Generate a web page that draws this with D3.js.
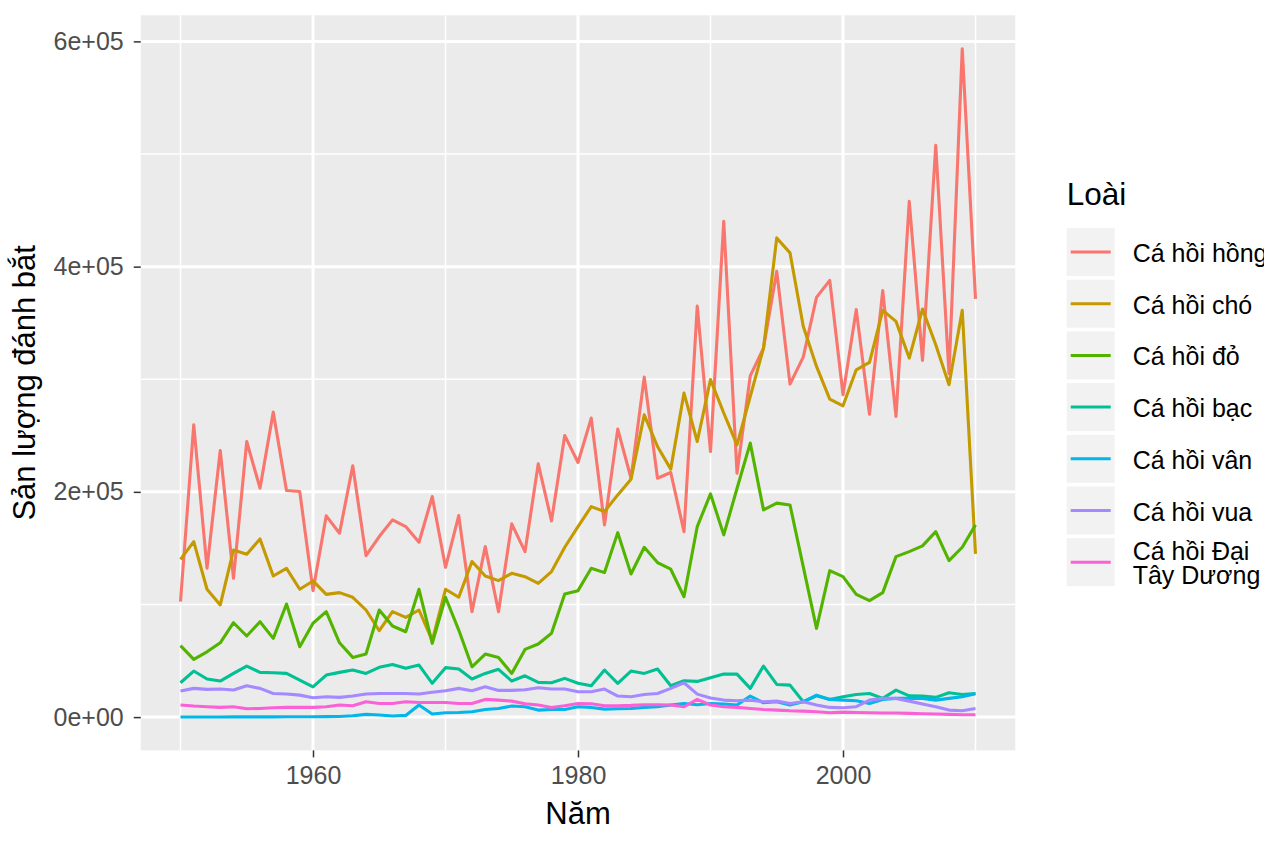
<!DOCTYPE html>
<html>
<head>
  <meta charset="UTF-8">
  <title>Sản lượng cá hồi</title>
  <script src="https://d3js.org/d3.v7.min.js"></script>
  <style>
    body {
      margin: 0;
      padding: 0;
      background-color: #ffffff;
    }
    svg text {
      font-family: 'Liberation Sans', Arial, Helvetica, sans-serif;
    }
    .axis text {
      font-size: 25px;
      fill: #4d4d4d;
    }
    .axis line {
      stroke: #333333;
      stroke-width: 1.5;
    }
    .axis path {
      display: none;
    }
  </style>
</head>
<body>
  <svg id="chart" width="1264" height="848"></svg>
  <script>
    // years 1950..2010
    const years = d3.range(1950, 2011);

    const species = ["Cá hồi hồng", "Cá hồi chó", "Cá hồi đỏ", "Cá hồi bạc", "Cá hồi vân", "Cá hồi vua", "Cá hồi Đại Tây Dương"];
    const legendLines = [["Cá hồi hồng"], ["Cá hồi chó"], ["Cá hồi đỏ"], ["Cá hồi bạc"], ["Cá hồi vân"], ["Cá hồi vua"], ["Cá hồi Đại", "Tây Dương"]];
    const colors = ["#F8766D", "#C49A00", "#53B400", "#00C094", "#00B6EB", "#A58AFF", "#FB61D7"];

    const pink = [102500, 259500, 132200, 236700, 123300, 244700, 203300, 270800, 201200, 200300,
      112300, 178700, 163300, 223100, 143400, 160300, 175100, 169200, 155300, 195800,
      133000, 178900, 93600, 151400, 93600, 171600, 146900, 224900, 174200, 250100,
      226100, 265500, 170700, 255700, 212100, 301900, 212100, 217200, 164700, 365000,
      235800, 440300, 216600, 303000, 327700, 395800, 295700, 319700, 372700, 387800,
      286200, 361800, 268900, 378700, 266900, 458000, 316700, 507800, 305000, 593500,
      371300];
    const chum = [140100, 155800, 113500, 99600, 148400, 144600, 158200, 125300, 132100, 113500,
      120900, 109000, 110500, 106400, 95100, 76700, 93600, 88600, 95100, 68000,
      113500, 106400, 138100, 125300, 121200, 127700, 124700, 118800, 129200, 150800,
      169200, 186900, 182500, 197300, 211300, 268400, 240300, 220200, 287700, 244700,
      299700, 270000, 241800, 284700, 327700, 425500, 412200, 347000, 311400, 282400,
      276400, 308400, 315000, 361200, 351400, 318800, 362400, 330700, 295100, 361200,
      145000];
    const sockeye = [63400, 51300, 58000, 66000, 83800, 72000, 84700, 69900, 100400, 62500,
      83300, 93600, 66000, 53000, 56000, 95100, 80900, 75800, 113500, 65500,
      106400, 77300, 44700, 56000, 53000, 38800, 60100, 64900, 74400, 109300,
      112300, 132100, 128300, 163800, 127100, 150800, 137200, 131300, 106900, 169200,
      198200, 161800, 203000, 243300, 184000, 190000, 188400, 133600, 78800, 130000,
      124700, 109000, 103400, 110500, 142500, 146900, 152000, 164700, 139000, 150800,
      170700];
    const coho = [30500, 40900, 33800, 32000, 38800, 45300, 39700, 39400, 38800, 32900,
      26900, 37300, 39700, 41800, 38800, 44200, 46800, 43300, 46200, 30000,
      43900, 42700, 33800, 38800, 42400, 32000, 36700, 30800, 30500, 34400,
      30000, 27800, 41800, 30000, 40900, 38800, 42700, 27800, 32300, 31700,
      34900, 38200, 38200, 25500, 45300, 29000, 28400, 13600, 18900, 15700,
      18000, 20100, 21000, 16600, 24000, 18900, 18600, 17500, 21600, 20100,
      21000];
    const steelhead = [100, 100, 100, 100, 200, 200, 200, 200, 300, 300,
      300, 400, 500, 1200, 2400, 1800, 1000, 1500, 10700, 2700,
      3800, 4100, 4700, 6800, 7700, 9800, 9200, 6200, 6800, 6800,
      9200, 8600, 7100, 7400, 7700, 8600, 9200, 10700, 12100, 11000,
      12100, 11600, 10700, 18700, 12700, 13600, 10700, 13600, 19500, 15700,
      15100, 14500, 12100, 15700, 16600, 16600, 16600, 15100, 16600, 18000,
      20700];
    const chinook = [23100, 25500, 24600, 24900, 24000, 27800, 25500, 21000, 20500, 19500,
      17200, 18100, 17500, 18700, 20500, 21000, 21000, 21000, 20500, 22000,
      23400, 25500, 23400, 26900, 23700, 23700, 24300, 26000, 24900, 24900,
      22500, 22500, 24900, 18700, 18100, 20100, 21000, 25500, 30500, 20400,
      17000, 15100, 14500, 15100, 13600, 14200, 12100, 13600, 10700, 8600,
      8300, 9200, 15100, 16600, 16600, 14200, 11600, 9200, 6200, 5600,
      7700];
    const atlantic = [10700, 9800, 9200, 8600, 9200, 7400, 7700, 8300, 8600, 8600,
      8600, 9200, 10700, 10100, 13600, 12100, 12100, 13600, 13000, 13000,
      13000, 12100, 12100, 15700, 15100, 14200, 11900, 10700, 8600, 10100,
      12100, 11900, 10100, 10100, 10400, 11000, 11000, 10700, 9200, 15700,
      10700, 9200, 8600, 7700, 6800, 6200, 5600, 5300, 4700, 3800,
      4400, 4100, 3800, 3600, 3600, 3300, 3000, 2700, 2400, 2100,
      2100];

    const series = [pink, chum, sockeye, coho, steelhead, chinook, atlantic];

    const xMajor = [1960, 1980, 2000];
    const xMinor = [1950, 1970, 1990, 2010];
    const yMajor = [0, 200000, 400000, 600000];
    const yMinor = [100000, 300000, 500000];

    // panel box
    const pl = 140.75, pr = 1015.25, pt = 15.3, pb = 750.4;

    const svg = d3.select("#chart");
    svg.append("rect").attr("width", 1264).attr("height", 848).attr("fill", "#ffffff");

    // ggplot style 5% expansion
    const xExt = d3.extent(years);
    const xPad = (xExt[1] - xExt[0]) * 0.05;
    const x = d3.scaleLinear().domain([xExt[0] - xPad, xExt[1] + xPad]).range([pl, pr]);

    const allVals = series.flat();
    const yExt = d3.extent(allVals);
    const yPad = (yExt[1] - yExt[0]) * 0.05;
    const y = d3.scaleLinear().domain([yExt[0] - yPad, yExt[1] + yPad]).range([pb, pt]);

    svg.append("rect")
      .attr("x", pl).attr("y", pt)
      .attr("width", pr - pl).attr("height", pb - pt)
      .attr("fill", "#EBEBEB");

    const grid = svg.append("g").attr("stroke", "#ffffff");
    grid.selectAll(".ymin").data(yMinor).enter().append("line")
      .attr("x1", pl).attr("x2", pr)
      .attr("y1", d => y(d)).attr("y2", d => y(d))
      .attr("stroke-width", 1.5);
    grid.selectAll(".xmin").data(xMinor).enter().append("line")
      .attr("y1", pt).attr("y2", pb)
      .attr("x1", d => x(d)).attr("x2", d => x(d))
      .attr("stroke-width", 1.5);
    grid.selectAll(".ymaj").data(yMajor).enter().append("line")
      .attr("x1", pl).attr("x2", pr)
      .attr("y1", d => y(d)).attr("y2", d => y(d))
      .attr("stroke-width", 3);
    grid.selectAll(".xmaj").data(xMajor).enter().append("line")
      .attr("y1", pt).attr("y2", pb)
      .attr("x1", d => x(d)).attr("x2", d => x(d))
      .attr("stroke-width", 3);

    // lines
    const line = d3.line()
      .x((d, i) => x(years[i]))
      .y(d => y(d));

    svg.append("g").selectAll("path")
      .data(series)
      .enter().append("path")
      .attr("d", d => line(d))
      .attr("fill", "none")
      .attr("stroke", (d, i) => colors[i])
      .attr("stroke-width", 3.1)
      .attr("stroke-linejoin", "round");

    // axes
    function sci(v) {
      const parts = d3.format(".0e")(v).split("e");
      const sign = parts[1][0];
      const exp = parts[1].slice(1).padStart(2, "0");
      return parts[0] + "e" + sign + exp;
    }

    svg.append("g")
      .attr("class", "axis")
      .attr("transform", `translate(0,${pb})`)
      .call(d3.axisBottom(x).tickValues(xMajor).tickFormat(d3.format("d")).tickSize(7).tickPadding(9));

    svg.append("g")
      .attr("class", "axis")
      .attr("transform", `translate(${pl},0)`)
      .call(d3.axisLeft(y).tickValues(yMajor).tickFormat(sci).tickSize(7).tickPadding(10));

    // axis titles
    svg.append("text")
      .attr("x", (pl + pr) / 2)
      .attr("y", 824)
      .attr("text-anchor", "middle")
      .style("font-size", "31px")
      .attr("fill", "#000")
      .text("Năm");

    svg.append("text")
      .attr("transform", `translate(35,${(pt + pb) / 2}) rotate(-90)`)
      .attr("text-anchor", "middle")
      .style("font-size", "31px")
      .attr("fill", "#000")
      .text("Sản lượng đánh bắt");

    // legend
    const lg = svg.append("g").attr("transform", "translate(1066.7,0)");
    lg.append("text")
      .attr("x", 0).attr("y", 205)
      .style("font-size", "31.5px")
      .attr("fill", "#000")
      .text("Loài");

    const keySize = 48, keyStep = 51.7, keyTop = 228;
    const items = lg.selectAll(".item")
      .data(species)
      .enter().append("g")
      .attr("transform", (d, i) => `translate(0,${keyTop + i * keyStep})`);

    items.append("rect")
      .attr("width", keySize).attr("height", keySize)
      .attr("fill", "#F2F2F2");

    items.append("line")
      .attr("x1", 4).attr("x2", keySize - 4)
      .attr("y1", keySize / 2).attr("y2", keySize / 2)
      .attr("stroke", (d, i) => colors[i])
      .attr("stroke-width", 3);

    items.each(function(d, i) {
      const lines = legendLines[i];
      const t = d3.select(this).append("text")
        .attr("x", 66)
        .style("font-size", "25px")
        .attr("fill", "#000");
      lines.forEach(function(s, j) {
        const off = (j - (lines.length - 1) / 2) * 24;
        t.append("tspan")
          .attr("x", 66)
          .attr("y", keySize / 2 + off + 1)
          .attr("dy", "0.36em")
          .text(s);
      });
    });
  </script>
</body>
</html>
